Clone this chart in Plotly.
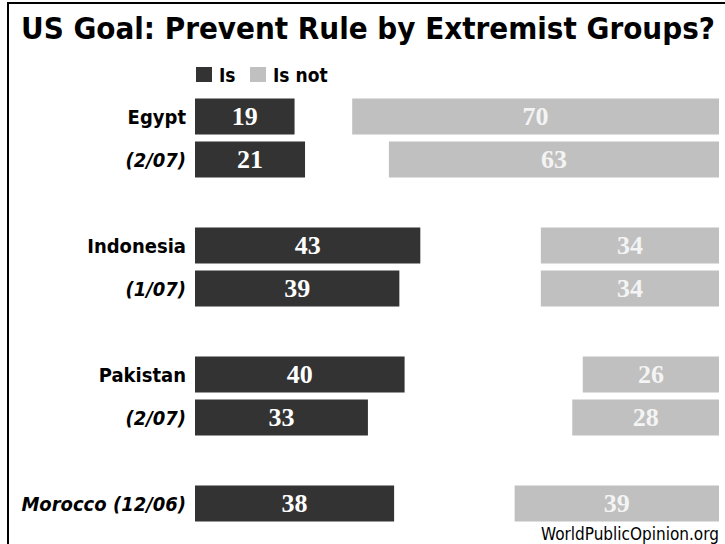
import plotly.graph_objects as go

# ---- data ----
categories = ["Egypt", "(2/07)", "Indonesia", "(1/07)", "Pakistan", "(2/07)", "Morocco (12/06)"]
tick_labels = ["<b>Egypt</b>", "<b><i>(2/07)</i></b>", "<b>Indonesia</b>", "<b><i>(1/07)</i></b>",
               "<b>Pakistan</b>", "<b><i>(2/07)</i></b>", "<b><i>Morocco (12/06)</i></b>"]
row_slots = [0, 1, 3, 4, 6, 7, 9]
is_vals = [19, 21, 43, 39, 40, 33, 38]
isnot_vals = [70, 63, 34, 34, 26, 28, 39]
total_scale = 100

DARK = "#333333"
GRAY = "#c0c0c0"
SANS = "DejaVu Sans Condensed, Liberation Sans Narrow, Arial Narrow, sans-serif"
SERIF = "Liberation Serif, Times New Roman, serif"

W, H = 725, 544
L, R, T, B = 195, 6, 95, 19
PW, PH = W - L - R, H - T - B


def px(x):
    return (x - L) / PW


def py(y):
    return (H - B - y) / PH


fig = go.Figure()
fig.add_trace(go.Bar(
    y=row_slots, x=is_vals, orientation="h", name="Is",
    marker=dict(color=DARK, line=dict(width=0)), width=0.84,
    text=[str(v) for v in is_vals], texttemplate="<b>%{text}</b>",
    textposition="inside", insidetextanchor="middle", textangle=0,
    textfont=dict(family=SERIF, size=26, color="white"),
    constraintext="none", showlegend=False, hoverinfo="skip",
))
fig.add_trace(go.Bar(
    y=row_slots, x=isnot_vals, base=[total_scale - v for v in isnot_vals],
    orientation="h", name="Is not",
    marker=dict(color=GRAY, line=dict(width=0)), width=0.84,
    text=[str(v) for v in isnot_vals], texttemplate="<b>%{text}</b>",
    textposition="inside", insidetextanchor="middle", textangle=0,
    textfont=dict(family=SERIF, size=26, color="#f4f4f4"),
    constraintext="none", showlegend=False, hoverinfo="skip",
))

annotations = [
    dict(text="<b>US Goal: Prevent Rule by Extremist Groups?</b>", x=px(368), y=py(28),
         xref="paper", yref="paper", xanchor="center", yanchor="middle", showarrow=False,
         font=dict(family=SANS, size=31, color="black")),
    dict(text="<b>Is</b>", x=px(217), y=py(75), xref="paper", yref="paper",
         xanchor="left", yanchor="middle", showarrow=False,
         font=dict(family=SANS, size=19, color="black")),
    dict(text="<b>Is not</b>", x=px(271), y=py(75), xref="paper", yref="paper",
         xanchor="left", yanchor="middle", showarrow=False,
         font=dict(family=SANS, size=19, color="black")),
    dict(text="WorldPublicOpinion.org", x=px(721), y=py(534), xref="paper", yref="paper",
         xanchor="right", yanchor="middle", showarrow=False,
         font=dict(family=SANS, size=17, color="black")),
]

shapes = [
    dict(type="rect", xref="paper", yref="paper", x0=px(196), x1=px(212), y0=py(67), y1=py(82),
         fillcolor=DARK, line=dict(width=0)),
    dict(type="rect", xref="paper", yref="paper", x0=px(250), x1=px(266), y0=py(67), y1=py(82),
         fillcolor=GRAY, line=dict(width=0)),
    dict(type="line", xref="paper", yref="paper", x0=px(8), x1=px(8), y0=py(3), y1=py(545),
         line=dict(color="black", width=2)),
    dict(type="line", xref="paper", yref="paper", x0=px(7), x1=px(726), y0=py(3), y1=py(3),
         line=dict(color="black", width=2)),
]

fig.update_layout(
    width=W, height=H, margin=dict(l=L, r=R, t=T, b=B),
    paper_bgcolor="white", plot_bgcolor="white",
    barmode="overlay", showlegend=False,
    annotations=annotations, shapes=shapes,
    xaxis=dict(range=[0, total_scale], visible=False, fixedrange=True),
    yaxis=dict(range=[9.5, -0.5], tickmode="array", tickvals=row_slots, ticktext=tick_labels,
               showgrid=False, zeroline=False, showline=False, ticks="",
               ticklabelstandoff=8, fixedrange=True,
               tickfont=dict(family=SANS, size=20, color="black")),
)

fig.write_html("out.html", config={"displayModeBar": False},
               post_script="document.body.style.margin='0';document.body.style.padding='0';")
